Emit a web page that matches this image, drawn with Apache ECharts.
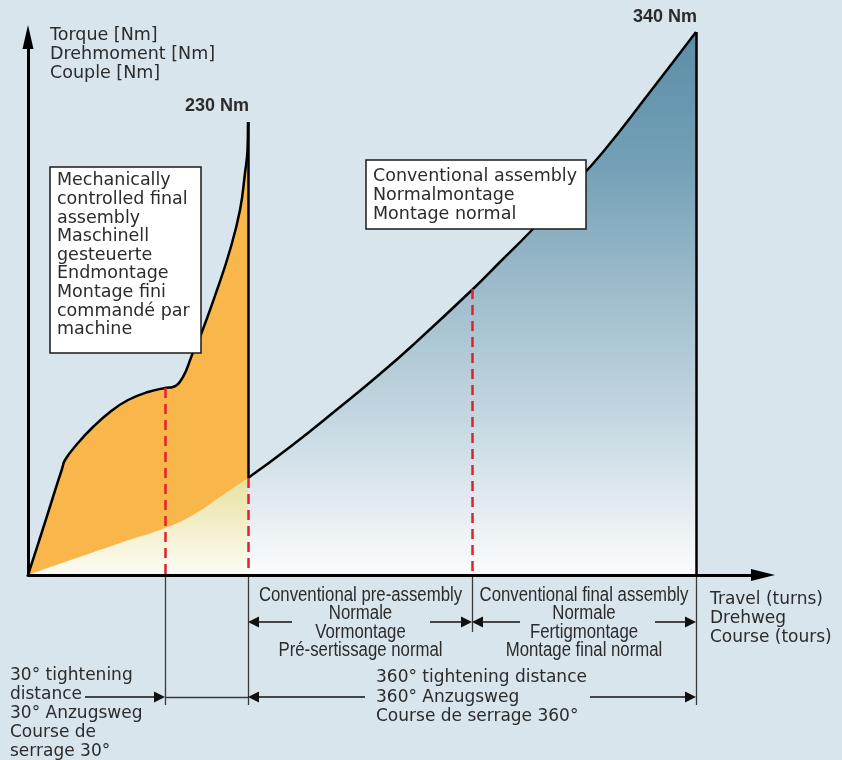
<!DOCTYPE html>
<html>
<head>
<meta charset="utf-8">
<script src="https://cdn.jsdelivr.net/npm/echarts@6/dist/echarts.min.js"></script>
<style>
  html, body { margin: 0; padding: 0; background: #d8e5ed; }
  #container { width: 842px; height: 760px; }
</style>
</head>
<body>
<div id="container"></div>
<script>
var dom = document.getElementById('container');
var myChart = echarts.init(dom, null, { renderer: 'canvas' });

// schematic units: travel (x) and torque (y)
let orangeTop = [[0, 0], [12, 37], [25, 78], [34, 106], [37, 115], [50, 132], [65, 148], [82, 163], [100, 175],
  [120, 183], [137, 187], [145, 188], [155, 198], [164, 220], [172, 238], [189, 285], [202, 325], [212, 365],
  [217, 402], [219.5, 425], [220, 453]]
let orangeLow = [[0, 0], [92, 32], [137, 47], [165, 60], [192, 78], [220, 97]]
let blueTop = [[220, 97], [262, 128], [312, 168], [352, 201], [385, 230], [445, 286], [472, 313],
  [503, 344], [537, 381], [575, 423], [622, 483], [668, 543]]

// key travel positions: 30° mark, end of mechanical, mid conventional, end conventional
let marks = [137, 220, 444, 668]
let peakMech = 453   // 230 Nm
let peakConv = 543   // 340 Nm
let dashTops = [187, 97, 286]

let extBottom = [-130, -130, -57, -130]
let row1 = -47
let row2 = -122

const fontMain = '"DejaVu Sans", sans-serif'
const fontArial = '"Liberation Sans", Arial, sans-serif'
const txtColor = '#2b2b2b'

function seg(a, b) {
  return { coords: [a, b] }
}
// arrow segment: symbol is centred on the end point, so pull it back half its length
const AR = 11
function arrowSeg(from, to) {
  let dx = to[0] - from[0], dy = to[1] - from[1]
  let len = Math.sqrt(dx * dx + dy * dy)
  return { coords: [from, [to[0] - dx / len * AR / 2, to[1] - dy / len * AR / 2]] }
}

function text(x, y, str, opt) {
  opt = opt || {}
  return {
    type: 'text', x: x, y: y, z: 100,
    scaleX: opt.sx || 1,
    style: {
      text: str,
      fill: txtColor,
      fontFamily: opt.family || fontMain,
      fontSize: opt.size || 17.5,
      fontWeight: opt.weight || 'normal',
      lineHeight: opt.lh || 19,
      align: opt.align || 'left',
      verticalAlign: 'top'
    }
  }
}
function box(x, y, w, h) {
  return {
    type: 'rect', z: 99,
    shape: { x: x, y: y, width: w, height: h },
    style: { fill: '#ffffff', stroke: '#1a1a1a', lineWidth: 1.5 }
  }
}

option = {
  backgroundColor: '#d8e5ed',
  animation: false,
  grid: { left: 28, right: 79, top: 37, bottom: 185 },
  xAxis: {
    type: 'value', min: 0, max: 735, z: 10,
    axisLine: { show: true, onZero: false, symbol: ['none', 'triangle'], symbolSize: [12, 24],
      lineStyle: { color: '#000', width: 3 } },
    axisTick: { show: false }, axisLabel: { show: false }, splitLine: { show: false }
  },
  yAxis: {
    type: 'value', min: 0, max: 538, z: 10,
    axisLine: { show: true, onZero: false, symbol: ['none', 'triangle'], symbolSize: [11, 24],
      lineStyle: { color: '#000', width: 3 } },
    axisTick: { show: false }, axisLabel: { show: false }, splitLine: { show: false }
  },
  series: [
    {
      // conventional assembly
      type: 'line', data: blueTop, smooth: 0.5, showSymbol: false, clip: false,
      lineStyle: { color: '#000', width: 2.5 },
      areaStyle: {
        opacity: 1,
        color: new echarts.graphic.LinearGradient(0, 0, 0, 1, [
          { offset: 0, color: '#5a8ea6' },
          { offset: 0.25, color: '#74a1b7' },
          { offset: 0.47, color: '#9dbccb' },
          { offset: 0.7, color: '#c2d6e0' },
          { offset: 0.85, color: '#dfe9ef' },
          { offset: 1, color: '#fbfcfd' }
        ])
      },
      z: 2
    },
    {
      // mechanically controlled
      type: 'line', data: orangeTop, smooth: 0.45, showSymbol: false, clip: false,
      lineStyle: { color: '#000', width: 2.5 },
      areaStyle: { color: '#f9b64b', opacity: 1 },
      z: 3
    },
    {
      type: 'line', data: orangeLow, smooth: 0.5, showSymbol: false,
      lineStyle: { width: 0, opacity: 0 },
      areaStyle: {
        opacity: 1,
        color: new echarts.graphic.LinearGradient(0, 0, 0, 1, [
          { offset: 0, color: '#e6e19d' },
          { offset: 0.5, color: '#f3efcc' },
          { offset: 1, color: '#fdfcf4' }
        ])
      },
      z: 4
    },
    {
      // vertical drops
      type: 'lines', coordinateSystem: 'cartesian2d', clip: false, z: 5,
      lineStyle: { color: '#000', width: 2.5, opacity: 1 },
      data: [seg([marks[1], peakMech], [marks[1], blueTop[0][1]]), seg([marks[3], peakConv], [marks[3], 0])]
    },
    {
      type: 'lines', coordinateSystem: 'cartesian2d', clip: false, z: 5,
      lineStyle: { color: '#e3202a', width: 2.5, type: [10, 6], opacity: 1 },
      data: dashTops.map((t, i) => seg([marks[i], t], [marks[i], 0]))
    },
    {
      // extension lines below the axis
      type: 'lines', coordinateSystem: 'cartesian2d', clip: false, z: 5,
      lineStyle: { color: '#3a3a3a', width: 1.3, opacity: 1 },
      data: marks.map((m, i) => seg([m, 0], [m, extBottom[i]])).concat([seg([marks[0], row2], [marks[1], row2])])
    },
    {
      // dimension arrows
      type: 'lines', coordinateSystem: 'cartesian2d', clip: false, z: 5,
      symbol: ['none', 'triangle'], symbolSize: [12, AR],
      lineStyle: { color: '#111', width: 1.5, opacity: 1 },
      itemStyle: { color: '#111' },
      data: [
        arrowSeg([264, row1], [marks[1], row1]),
        arrowSeg([402, row1], [marks[2], row1]),
        arrowSeg([492, row1], [marks[2], row1]),
        arrowSeg([627, row1], [marks[3], row1]),
        arrowSeg([57, row2], [marks[0], row2]),
        arrowSeg([337, row2], [marks[1], row2]),
        arrowSeg([562, row2], [marks[3], row2])
      ]
    }
  ],
  graphic: [
    text(50, 25.5, 'Torque [Nm]\nDrehmoment [Nm]\nCouple [Nm]'),
    text(249, 97.5, '230 Nm', { family: fontArial, size: 18, weight: 'bold', align: 'right', lh: 18 }),
    text(697, 8.5, '340 Nm', { family: fontArial, size: 18, weight: 'bold', align: 'right', lh: 18 }),
    box(50, 167, 151, 186),
    text(57, 171.5, 'Mechanically\ncontrolled final\nassembly\nMaschinell\ngesteuerte\nEndmontage\nMontage fini\ncommandé par\nmachine', { lh: 18.6 }),
    box(366, 160, 220, 69),
    text(373, 167.5, 'Conventional assembly\nNormalmontage\nMontage normal', { lh: 18.6 }),
    text(360.5, 586, 'Conventional pre-assembly\nNormale\nVormontage\nPré-sertissage normal', { family: fontArial, size: 19.5, lh: 18.5, align: 'center', sx: 0.86 }),
    text(584, 586, 'Conventional final assembly\nNormale\nFertigmontage\nMontage final normal', { family: fontArial, size: 19.5, lh: 18.5, align: 'center', sx: 0.86 }),
    text(710, 590.5, 'Travel (turns)\nDrehweg\nCourse (tours)', { size: 17 }),
    text(10, 666.5, '30° tightening\ndistance\n30° Anzugsweg\nCourse de\nserrage 30°', { size: 17 }),
    text(376, 668, '360° tightening distance\n360° Anzugsweg\nCourse de serrage 360°', { size: 17, lh: 19.5 })
  ]
};
myChart.setOption(option);

window.addEventListener('resize', function () {
  myChart.resize();
});
</script>
</body>
</html>
